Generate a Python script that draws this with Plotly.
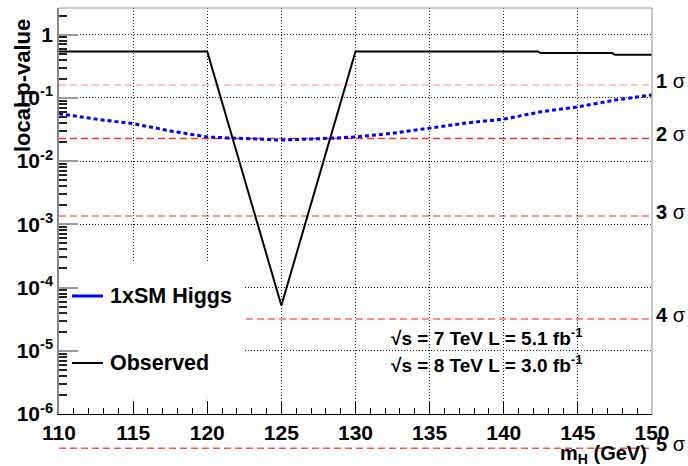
import math
import plotly.graph_objects as go

# Higgs mass scan points (GeV) and local p-values
mass_obs = [110, 115, 120, 125, 130, 135, 140, 142.3, 142.5, 147.3, 147.5, 150]
p_obs = [0.54, 0.54, 0.54, 5.2e-5, 0.54, 0.54, 0.54, 0.54, 0.51, 0.51, 0.48, 0.48]

mass_exp = [110, 112.5, 115, 117.5, 120, 122.5, 125, 127.5, 130, 132.5, 135,
            137.5, 140, 142.5, 145, 147.5, 150]
p_exp = [0.056, 0.046, 0.039, 0.030, 0.024, 0.0225, 0.0215, 0.0225, 0.024, 0.0275,
         0.033, 0.040, 0.046, 0.060, 0.072, 0.092, 0.111]

# Gaussian significance reference levels
sigma_labels = ["1", "2", "3", "4", "5"]
sigma_p = [0.1587, 0.02275, 0.00135, 3.167e-5, 2.867e-7]
sigma_colors = ["#ffb0b0", "#ff2a2a", "#ff6e6e", "#ff6464", "#ff5050"]

x_ticks = [110, 115, 120, 125, 130, 135, 140, 145, 150]
y_ticks = [1e-6, 1e-5, 1e-4, 1e-3, 1e-2, 1e-1, 1]
y_ticktext = ["10<sup>-6</sup>", "10<sup>-5</sup>", "10<sup>-4</sup>", "10<sup>-3</sup>",
              "10<sup>-2</sup>", "10<sup>-1</sup>", "1"]

legend_names = ["1xSM Higgs", "Observed"]
lumi_lines = ["√s = 7 TeV L = 5.1 fb<sup>-1</sup>", "√s = 8 TeV L = 3.0 fb<sup>-1</sup>"]

FONT = "Liberation Sans, Arial, sans-serif"
W, H = 688, 466
ML, MR, MT, MB = 59, 36, 8, 52
YMIN, YMAX = -6.0, 0.42
PW, PH = W - ML - MR, H - MT - MB


def px_x(px):
    return (px - ML) / PW


def px_y(py):
    return (H - MB - py) / PH


def frac_y(p):
    return (math.log10(p) - YMIN) / (YMAX - YMIN)


fig = go.Figure()

fig.add_trace(go.Scatter(
    x=mass_exp, y=p_exp, mode="lines", name=legend_names[0],
    line=dict(color="#0000ff", width=3, dash="4px,3px"), showlegend=False))
fig.add_trace(go.Scatter(
    x=mass_obs, y=p_obs, mode="lines", name=legend_names[1],
    line=dict(color="black", width=2), showlegend=False))

shapes = []
annotations = []

# significance lines and labels
for lab, p, c in zip(sigma_labels, sigma_p, sigma_colors):
    yf = frac_y(p)
    shapes.append(dict(type="line", xref="paper", yref="paper", x0=0, x1=1, y0=yf, y1=yf,
                       line=dict(color=c, width=1.5, dash="7px,4px"), layer="below"))
    annotations.append(dict(xref="paper", yref="paper", x=1, y=yf, xshift=2, yshift=4,
                            xanchor="left", yanchor="middle", showarrow=False,
                            text=f"<b>{lab}</b> σ",
                            font=dict(family=FONT, size=20, color="black")))

# frame (top and right)
shapes.append(dict(type="line", xref="paper", yref="paper", x0=0, x1=1, y0=1, y1=1,
                   line=dict(color="#a0a0a0", width=1.2)))
shapes.append(dict(type="line", xref="paper", yref="paper", x0=1, x1=1, y0=0, y1=1,
                   line=dict(color="#a0a0a0", width=1.2)))

# legend box
shapes.append(dict(type="rect", xref="x", yref="y", x0=110, x1=122.4,
                   y0=10 ** -5.76, y1=10 ** -3.6, fillcolor="white",
                   line=dict(width=0), layer="between"))
for name, py, col, wd in [(legend_names[0], 296, "#0000ff", 3), (legend_names[1], 363, "black", 2)]:
    shapes.append(dict(type="line", xref="paper", yref="paper", x0=px_x(72), x1=px_x(103),
                       y0=px_y(py), y1=px_y(py), line=dict(color=col, width=wd)))
    annotations.append(dict(xref="paper", yref="paper", x=px_x(108), y=px_y(py),
                            xanchor="left", yanchor="middle", showarrow=False,
                            text=f"<b>{name}</b>",
                            font=dict(family=FONT, size=21.5, color="black")))

# luminosity labels
for txt, py in zip(lumi_lines, [337, 364]):
    annotations.append(dict(xref="paper", yref="paper", x=px_x(389), y=px_y(py),
                            xanchor="left", yanchor="middle", showarrow=False,
                            text=f"<b>{txt}</b>",
                            font=dict(family=FONT, size=19, color="black")))

# axis titles
annotations.append(dict(xref="paper", yref="paper", x=px_x(22), y=px_y(86),
                        xanchor="center", yanchor="middle", showarrow=False, textangle=-90,
                        text="<b>local p-value</b>",
                        font=dict(family=FONT, size=22, color="black")))
annotations.append(dict(xref="paper", yref="paper", x=px_x(649), y=px_y(454),
                        xanchor="right", yanchor="middle", showarrow=False,
                        text="<b>m<sub>H</sub> (GeV)</b>",
                        font=dict(family=FONT, size=20, color="black")))

fig.update_layout(
    width=W, height=H,
    margin=dict(l=ML, r=MR, t=MT, b=MB),
    paper_bgcolor="white", plot_bgcolor="rgba(0,0,0,0)",
    shapes=shapes, annotations=annotations, showlegend=False,
    xaxis=dict(range=[110, 150], tickvals=x_ticks, ticks="inside", ticklen=13,
               tickcolor="black", tickwidth=1.3,
               minor=dict(dtick=1, ticks="inside", ticklen=6, tickcolor="black",
                          tickwidth=1.3),
               showgrid=True, gridcolor="#222", gridwidth=1, griddash="1px,2px",
               showline=True, linecolor="black", linewidth=1.3, zeroline=False,
               tickfont=dict(family=FONT, size=21, color="black", weight="bold")),
    yaxis=dict(type="log", range=[YMIN, YMAX], tickvals=y_ticks, ticktext=y_ticktext,
               ticks="inside", ticklen=19, tickcolor="#999", tickwidth=2,
               minor=dict(dtick="D1", ticks="inside", ticklen=8, tickcolor="#222",
                          tickwidth=1.5),
               showgrid=True, gridcolor="#222", gridwidth=1, griddash="1px,2px",
               showline=True, linecolor="#888", linewidth=1.5, zeroline=False,
               tickfont=dict(family=FONT, size=21, color="black", weight="bold")),
)

fig.write_html("out.html")
